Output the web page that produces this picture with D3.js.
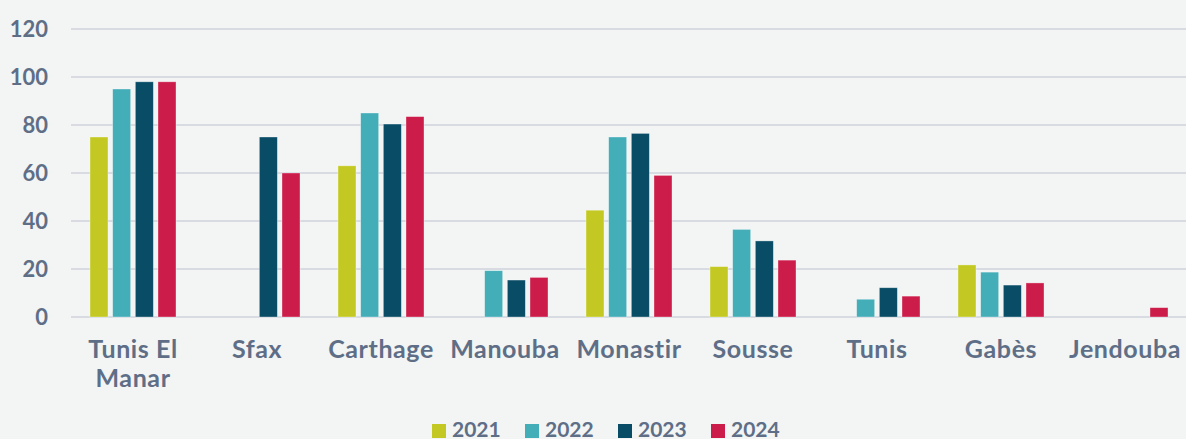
<!DOCTYPE html>
<html>
<head>
<meta charset="utf-8">
<script src="https://cdn.jsdelivr.net/npm/d3@7"></script>
<style>
  html, body { margin: 0; padding: 0; background: #f2f5f4; }
  svg { display: block; font-family: Lato, "Open Sans", sans-serif; font-weight: bold; }
</style>
</head>
<body>
<script>
// données
const categories = ["Tunis El Manar", "Sfax", "Carthage", "Manouba", "Monastir", "Sousse", "Tunis", "Gabès", "Jendouba"];
const years = ["2021", "2022", "2023", "2024"];
const v2021 = [75, null, 63, null, 44.5, 21, null, 21.7, null];
const v2022 = [95, null, 85, 19.3, 75, 36.5, 7.4, 18.7, null];
const v2023 = [98, 75, 80.4, 15.4, 76.5, 31.7, 12.2, 13.3, null];
const v2024 = [98, 60, 83.5, 16.5, 59, 23.7, 8.7, 14.2, 3.9];
const yTicks = [0, 20, 40, 60, 80, 100, 120];
const colors = ["#c3c922", "#43aeb8", "#084c66", "#cc1c4a"];

const series = [v2021, v2022, v2023, v2024];

const width = 1186, height = 439;
const textColor = "#5f6e87";

const svg = d3.select("body").append("svg")
    .attr("width", width)
    .attr("height", height);

const x0 = d3.scaleBand()
    .domain(categories)
    .range([71, 1187])
    .paddingInner(0)
    .paddingOuter(0);

const x1 = d3.scaleBand()
    .domain(years)
    .range([19, 105])
    .paddingInner(0.206)
    .paddingOuter(0);

const y = d3.scaleLinear()
    .domain([0, 120])
    .range([317, 29]);

// grille
svg.append("g")
    .selectAll("line")
    .data(yTicks)
    .join("line")
    .attr("x1", 71)
    .attr("x2", width)
    .attr("y1", d => y(d))
    .attr("y2", d => y(d))
    .attr("stroke", "#d8dce2")
    .attr("stroke-width", 2);

// axe Y
const yAxis = svg.append("g")
    .attr("transform", "translate(48,0)")
    .call(d3.axisLeft(y).tickValues(yTicks).tickSize(0).tickPadding(0));
yAxis.select(".domain").remove();
yAxis.selectAll("text")
    .attr("fill", textColor)
    .attr("font-size", 22)
    .attr("font-family", "Lato, sans-serif")
    .attr("font-weight", "bold");

// barres
const rows = [];
categories.forEach((c, i) => {
  years.forEach((yr, j) => {
    if (series[j][i] != null) rows.push({ cat: c, year: yr, value: series[j][i], color: colors[j] });
  });
});

svg.append("g")
    .selectAll("rect")
    .data(rows)
    .join("rect")
    .attr("x", d => x0(d.cat) + x1(d.year))
    .attr("y", d => y(d.value))
    .attr("width", x1.bandwidth())
    .attr("height", d => y(0) - y(d.value))
    .attr("fill", d => d.color)
    .attr("stroke", "rgba(255,255,255,0.45)")
    .attr("stroke-width", 0.75);

// axe X
const xAxis = svg.append("g")
    .attr("transform", "translate(0,317)")
    .call(d3.axisBottom(x0).tickSize(0).tickPadding(0));
xAxis.select(".domain").remove();
xAxis.selectAll("text")
    .attr("fill", textColor)
    .attr("font-size", 25)
    .attr("letter-spacing", 0.6)
    .attr("font-family", "Lato, sans-serif")
    .attr("font-weight", "bold")
    .attr("dy", null)
    .call(wrap, 122);

function wrap(texts, w) {
  const top = 40.5;
  texts.each(function() {
    const text = d3.select(this);
    const words = text.text().split(/\s+/);
    text.text(null);
    let line = [];
    let lineNo = 0;
    let tspan = text.append("tspan").attr("x", 0).attr("y", top);
    words.forEach(word => {
      line.push(word);
      tspan.text(line.join(" "));
      if (tspan.node().getComputedTextLength() > w && line.length > 1) {
        line.pop();
        tspan.text(line.join(" "));
        line = [word];
        lineNo++;
        tspan = text.append("tspan").attr("x", 0).attr("y", top + lineNo * 29).text(word);
      }
    });
  });
}

// légende
const legend = svg.append("g")
    .selectAll("g")
    .data(years)
    .join("g")
    .attr("transform", (d, i) => `translate(${432 + i * 93},0)`);

legend.append("rect")
    .attr("y", 424)
    .attr("width", 14)
    .attr("height", 14)
    .attr("fill", (d, i) => colors[i]);

legend.append("text")
    .attr("x", 20)
    .attr("y", 436.5)
    .attr("fill", textColor)
    .attr("font-size", 21)
    .text(d => d);
</script>
</body>
</html>
